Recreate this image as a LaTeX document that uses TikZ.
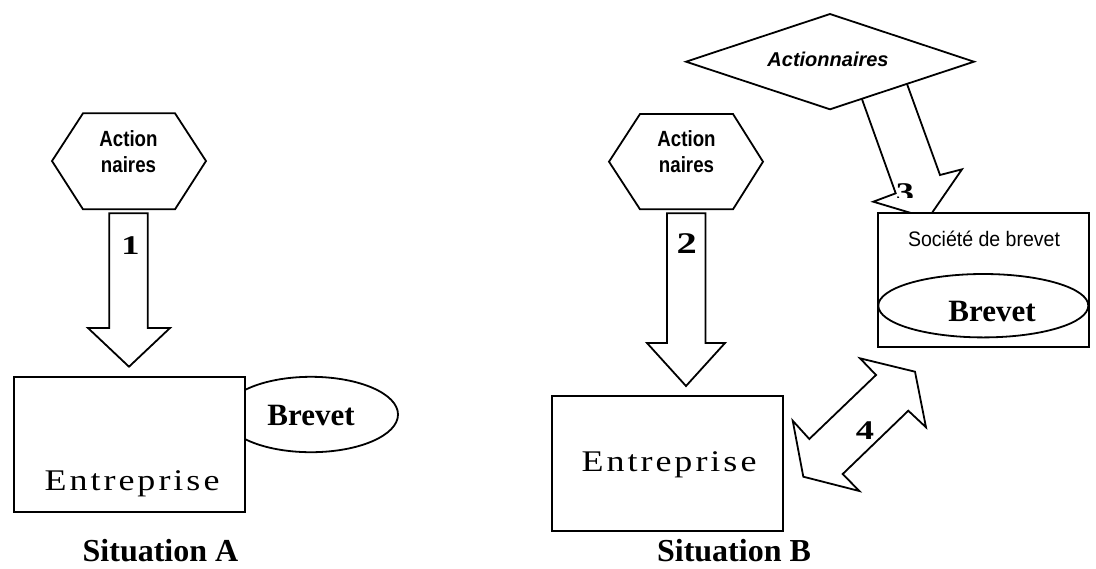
\documentclass[tikz,border=0pt]{standalone}
\usepackage{fontspec}
\setmainfont{Liberation Serif}
\newfontfamily\hexfont[FakeStretch=0.85]{Liberation Sans}
\newfontfamily\sansfont{Liberation Sans}
\newfontfamily\socfont[FakeStretch=0.93]{Liberation Sans}
\newfontfamily\entfont[FakeStretch=1.2,LetterSpace=10]{Liberation Serif}
\newfontfamily\numfont[FakeStretch=1.35]{Liberation Serif}
\begin{document}
\begin{tikzpicture}[x=0.5pt,y=-0.5pt, line width=0.9pt, line join=miter,
  shapestyle/.style={draw=black, fill=white},
  txt/.style={inner sep=0pt, anchor=base},
  hextxt/.style={inner sep=0pt, align=center, font=\hexfont\bfseries\fontsize{11}{13}\selectfont},
  numtxt/.style={txt, font=\numfont\bfseries\fontsize{13.5}{16}\selectfont},
  enttxt/.style={txt, font=\entfont\fontsize{15}{18}\selectfont},
  brevtxt/.style={txt, font=\bfseries\fontsize{15.5}{18}\selectfont},
  sittxt/.style={txt, font=\bfseries\fontsize{16}{19}\selectfont}]
\useasboundingbox (0,0) rectangle (1096,568);

% ---------------- Situation A ----------------
\draw[shapestyle] (311,414.5) ellipse [x radius=87, y radius=37.7];
\node[brevtxt] (brevetA) at (311,425.7) {Brevet};
\draw[shapestyle] (14,376.7) rectangle (245,511.7);
\node[enttxt] (entA) at (132,490.7) {Entreprise};

\draw[shapestyle] (52,161) -- (83,113.3) -- (175,113.3) -- (206,161) -- (175,209.3) -- (83,209.3) -- cycle;
\node[hextxt] (actA) at (128.5,152) {Action\\naires};

\draw[shapestyle] (109.3,213.3) -- (147.7,213.3) -- (147.7,328) -- (170,328) -- (129,366.7) -- (88,328) -- (109.3,328) -- cycle;
\node[numtxt] (n1) at (130.5,254) {1};

\node[sittxt] (sitA) at (160.5,561) {Situation A};

% ---------------- Situation B ----------------
\draw[shapestyle] (609,161.7) -- (640,114) -- (733,114) -- (763,161.7) -- (733,209.3) -- (640,209.3) -- cycle;
\node[hextxt] (actB) at (686.5,152) {Action\\naires};

\draw[shapestyle] (667,213.3) -- (705.5,213.3) -- (705.5,343) -- (725,343) -- (686,386) -- (647,343) -- (667,343) -- cycle;
\node[numtxt, font=\numfont\bfseries\fontsize{15}{17}\selectfont] (n2) at (686.7,253.3) {2};

\draw[shapestyle] (551.7,395.7) rectangle (782.7,530.7);
\node[enttxt] (entB) at (669,471.7) {Entreprise};

% arrow 3 (from the diamond to the patent company)
\draw[shapestyle] (853.6,75.8) -- (895.7,193.3) -- (873.3,201.7) -- (928.3,218.2) -- (962,169.3) -- (940,175) -- (898.6,60.8) -- cycle;
\begin{scope}
  \clip (885,170) rectangle (925,197);
  \node[numtxt] (n3) at (905,201.5) {3};
\end{scope}

\draw[shapestyle] (686,61.7) -- (830,14) -- (974,61.7) -- (830,109.3) -- cycle;
\node[txt, font=\sansfont\bfseries\itshape\fontsize{10}{12}\selectfont] (actC) at (828,66) {Actionnaires};

\draw[shapestyle] (877.7,213.3) rectangle (1089.3,347);
\node[txt, font=\socfont\fontsize{10.5}{12}\selectfont] (soc) at (984,246.7) {Société de brevet};
\draw[shapestyle] (983.3,305.7) ellipse [x radius=105, y radius=31.7];
\node[brevtxt] (brevetB) at (992,321.7) {Brevet};

% arrow 4 (double arrow)
\draw[shapestyle] (860,358.3) -- (915,371.7) -- (926,427.3) -- (908.3,410.7) -- (842.7,474) -- (859.3,491) -- (803.3,476.7) -- (792.7,420.7) -- (809.3,439) -- (876,375) -- cycle;
\node[numtxt] (n4) at (865,439.3) {4};

\node[sittxt] (sitB) at (734,561) {Situation B};
\end{tikzpicture}
\end{document}
